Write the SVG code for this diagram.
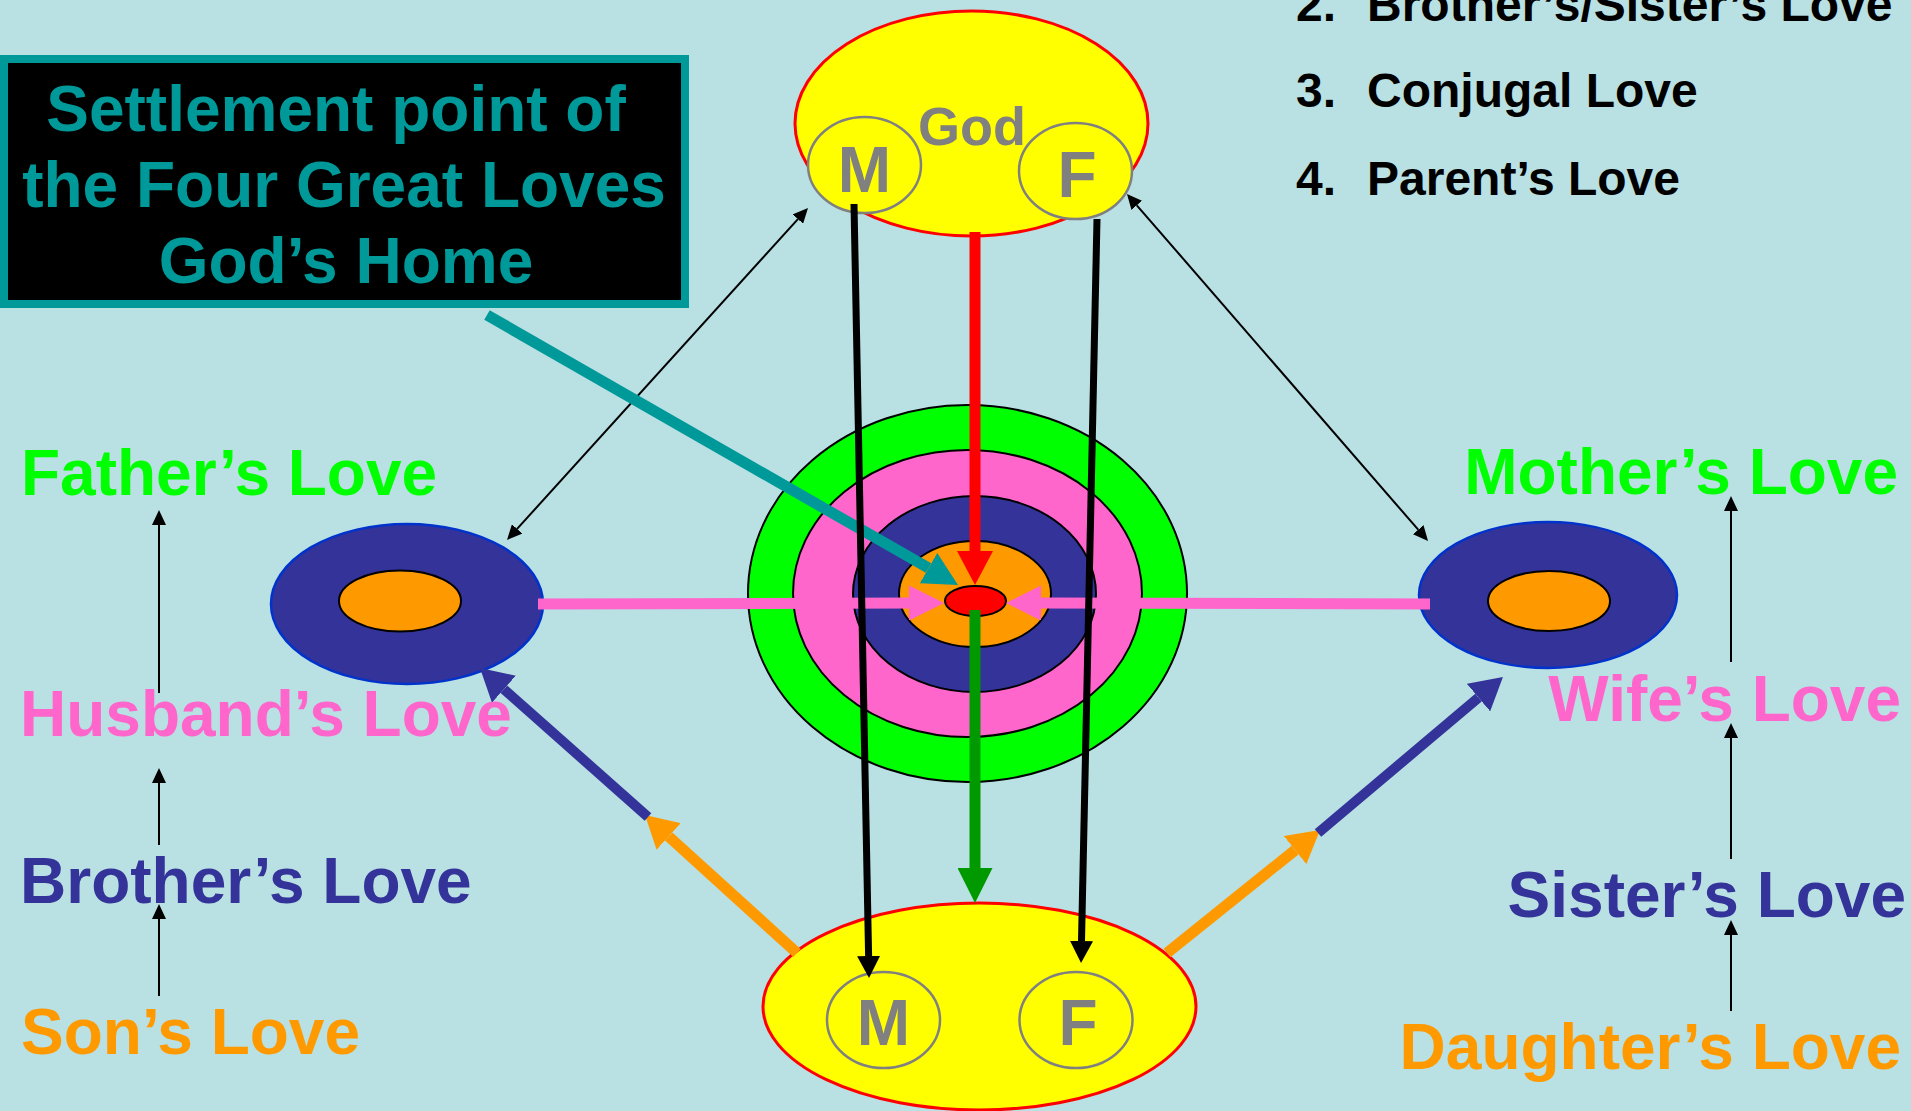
<svg xmlns="http://www.w3.org/2000/svg" width="1911" height="1111" viewBox="0 0 1911 1111">
<style>
.t{font-family:"Liberation Sans",Arial,sans-serif;font-weight:bold}
.lbl{font-size:64px}
.lst{font-size:48px;fill:#000}
.gr{fill:#808080;font-size:64px;text-anchor:middle}
.ring{stroke:#000;stroke-width:2}
.yel{fill:#FFFF00;stroke:#FF0000;stroke-width:3}
.mf{fill:#FFFF00;stroke:#808080;stroke-width:2.5}
.thin{stroke:#000;stroke-width:2;fill:none;marker-end:url(#hThin)}
.dbl{marker-start:url(#hThin)}
</style>
<defs>
<marker id="hThin" markerUnits="userSpaceOnUse" markerWidth="15" markerHeight="14" refX="0" refY="7" orient="auto-start-reverse" viewBox="0 0 15 14"><path d="M0,0L15,7L0,14Z" fill="#000"/></marker>
<marker id="hBlk" markerUnits="userSpaceOnUse" markerWidth="22" markerHeight="23" refX="0" refY="11.5" orient="auto" viewBox="0 0 22 23"><path d="M0,0L22,11.5L0,23Z" fill="#000"/></marker>
<marker id="hRed" markerUnits="userSpaceOnUse" markerWidth="34" markerHeight="36" refX="0" refY="18" orient="auto" viewBox="0 0 34 36"><path d="M0,0L34,18L0,36Z" fill="#FF0000"/></marker>
<marker id="hGrn" markerUnits="userSpaceOnUse" markerWidth="35" markerHeight="35" refX="0" refY="17.5" orient="auto" viewBox="0 0 35 35"><path d="M0,0L35,17.5L0,35Z" fill="#009900"/></marker>
<marker id="hPnk" markerUnits="userSpaceOnUse" markerWidth="35" markerHeight="35" refX="0" refY="17.5" orient="auto" viewBox="0 0 35 35"><path d="M0,0L35,17.5L0,35Z" fill="#FF66CC"/></marker>
<marker id="hTeal" markerUnits="userSpaceOnUse" markerWidth="34" markerHeight="35" refX="0" refY="17.5" orient="auto" viewBox="0 0 34 35"><path d="M0,0L34,17.5L0,35Z" fill="#009999"/></marker>
<marker id="hOrg" markerUnits="userSpaceOnUse" markerWidth="32" markerHeight="36" refX="0" refY="18" orient="auto" viewBox="0 0 32 36"><path d="M0,0L32,18L0,36Z" fill="#FF9900"/></marker>
<marker id="hBlu" markerUnits="userSpaceOnUse" markerWidth="32" markerHeight="36" refX="0" refY="18" orient="auto" viewBox="0 0 32 36"><path d="M0,0L32,18L0,36Z" fill="#333399"/></marker>
</defs>
<rect x="0" y="0" width="1911" height="1111" fill="#B9E0E3"/>

<g id="god">
<ellipse class="yel" cx="971.5" cy="123.5" rx="176.5" ry="112.5"/>
<text class="t gr" x="972" y="145" style="font-size:54px">God</text>
</g>
<g id="god-m">
<ellipse class="mf" cx="864.5" cy="165" rx="56.5" ry="48"/>
<text class="t gr" x="864.5" y="192">M</text>
</g>
<g id="god-f">
<ellipse class="mf" cx="1075.5" cy="171" rx="56.5" ry="48"/>
<text class="t gr" x="1077" y="197">F</text>
</g>

<g id="list">
<text class="t lst" x="1296" y="21">2.</text><text class="t lst" x="1367" y="21">Brother’s/Sister’s Love</text>
<text class="t lst" x="1296" y="107">3.</text><text class="t lst" x="1367" y="107">Conjugal Love</text>
<text class="t lst" x="1296" y="195">4.</text><text class="t lst" x="1367" y="195">Parent’s Love</text>
</g>

<g id="callout">
<rect x="4" y="59" width="681" height="245" fill="#000" stroke="#009999" stroke-width="8"/>
<text class="t" font-size="64" fill="#009999" text-anchor="middle"><tspan x="336" y="131">Settlement point of</tspan><tspan x="344" y="207">the Four Great Loves</tspan><tspan x="346" y="283">God’s Home</tspan></text>
</g>

<g id="center-target">
<ellipse class="ring" cx="967.5" cy="593.5" rx="219.5" ry="188.5" fill="#00FF00"/>
<ellipse class="ring" cx="967.5" cy="593.5" rx="174.5" ry="143.5" fill="#FF66CC"/>
<ellipse class="ring" cx="974.5" cy="594" rx="121.5" ry="98" fill="#333399"/>
<ellipse class="ring" cx="975" cy="594" rx="76" ry="53" fill="#FF9900"/>
<ellipse class="ring" cx="975.5" cy="601" rx="30.5" ry="15" fill="#FF0000"/>
</g>

<g id="husband">
<ellipse cx="407" cy="604" rx="136" ry="80" fill="#333399" stroke="#0033CC" stroke-width="2.5"/>
<ellipse cx="400" cy="601" rx="61" ry="30.5" fill="#FF9900" stroke="#000" stroke-width="2"/>
</g>
<g id="wife">
<ellipse cx="1548" cy="595" rx="129" ry="73" fill="#333399" stroke="#0033CC" stroke-width="2.5"/>
<ellipse cx="1549" cy="601" rx="61" ry="30" fill="#FF9900" stroke="#000" stroke-width="2"/>
</g>

<g id="children">
<ellipse class="yel" cx="979.5" cy="1006.5" rx="216.5" ry="103.5"/>
</g>
<g id="child-m">
<ellipse class="mf" cx="883.5" cy="1020" rx="56.5" ry="48"/>
<text class="t gr" x="883.5" y="1045">M</text>
</g>
<g id="child-f">
<ellipse class="mf" cx="1076" cy="1020" rx="56.5" ry="48"/>
<text class="t gr" x="1078" y="1045">F</text>
</g>

<g id="labels-left" class="t lbl">
<text x="21" y="495" fill="#00FF00">Father’s Love</text>
<text x="20" y="736" fill="#FF66CC">Husband’s Love</text>
<text x="20" y="903" fill="#333399">Brother’s Love</text>
<text x="21" y="1054" fill="#FF9900">Son’s Love</text>
</g>
<g id="labels-right" class="t lbl" text-anchor="end">
<text x="1898" y="494" fill="#00FF00">Mother’s Love</text>
<text x="1901" y="721" fill="#FF66CC">Wife’s Love</text>
<text x="1906" y="917" fill="#333399">Sister’s Love</text>
<text x="1901" y="1069" fill="#FF9900">Daughter’s Love</text>
</g>

<g id="connectors">
<line class="thin" x1="159" y1="693" x2="159" y2="525"/>
<line class="thin" x1="159" y1="845" x2="159" y2="783"/>
<line class="thin" x1="159" y1="996" x2="159" y2="919"/>
<line class="thin" x1="1731" y1="662" x2="1731" y2="511"/>
<line class="thin" x1="1731" y1="859" x2="1731" y2="738"/>
<line class="thin" x1="1731" y1="1011" x2="1731" y2="935"/>
<line class="thin dbl" x1="797.9" y1="219.1" x2="517.1" y2="528.9"/>
<line class="thin dbl" x1="1136.8" y1="205.3" x2="1418.2" y2="529.7"/>
<line x1="538" y1="604" x2="909" y2="603" stroke="#FF66CC" stroke-width="11" marker-end="url(#hPnk)"/>
<line x1="1430" y1="604" x2="1041" y2="603" stroke="#FF66CC" stroke-width="11" marker-end="url(#hPnk)"/>
<line x1="487" y1="315" x2="928.5" y2="568.1" stroke="#009999" stroke-width="11" marker-end="url(#hTeal)"/>
<line x1="975" y1="232" x2="975" y2="551" stroke="#FF0000" stroke-width="11" marker-end="url(#hRed)"/>
<line x1="975" y1="610" x2="975" y2="868" stroke="#009900" stroke-width="11" marker-end="url(#hGrn)"/>
<line x1="854" y1="204" x2="868.6" y2="956" stroke="#000" stroke-width="7" marker-end="url(#hBlk)"/>
<line x1="1097" y1="219" x2="1081.5" y2="941" stroke="#000" stroke-width="7" marker-end="url(#hBlk)"/>
<line x1="797" y1="953" x2="668.7" y2="836.5" stroke="#FF9900" stroke-width="11" marker-end="url(#hOrg)"/>
<line x1="648" y1="817" x2="503.9" y2="689.2" stroke="#333399" stroke-width="10" marker-end="url(#hBlu)"/>
<line x1="1167" y1="953" x2="1295.1" y2="850.1" stroke="#FF9900" stroke-width="11" marker-end="url(#hOrg)"/>
<line x1="1318" y1="833" x2="1478.5" y2="697.6" stroke="#333399" stroke-width="10" marker-end="url(#hBlu)"/>
</g>
</svg>
